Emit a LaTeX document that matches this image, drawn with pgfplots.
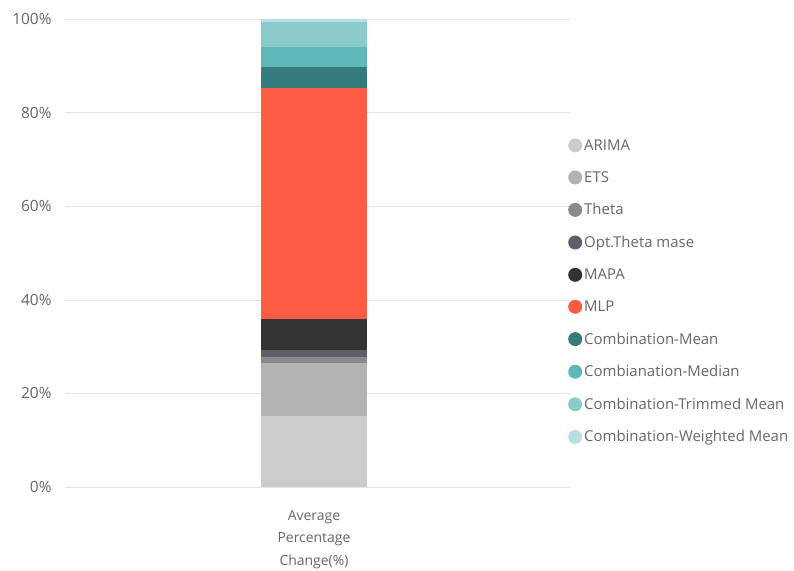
\documentclass[border=0pt]{standalone}
\usepackage{pgfplots}
\pgfplotsset{compat=1.18}
\usepackage{fontspec}
\setmainfont{Open Sans}
\definecolor{cA}{HTML}{CCCCCC}
\definecolor{cB}{HTML}{B3B3B3}
\definecolor{cC}{HTML}{8A8A8A}
\definecolor{cD}{HTML}{5F5F6B}
\definecolor{cE}{HTML}{333333}
\definecolor{cF}{HTML}{FD5C45}
\definecolor{cG}{HTML}{357A7C}
\definecolor{cH}{HTML}{5FB7BA}
\definecolor{cI}{HTML}{8CCBCC}
\definecolor{cJ}{HTML}{B5DFE0}
\definecolor{txt}{HTML}{666666}
\begin{document}
\begin{tikzpicture}[x=1bp,y=1bp]
\useasboundingbox (0,0) rectangle (794,571);
\begin{axis}[
  at={(65bp,84bp)}, anchor=south west,
  scale only axis, width=505bp, height=468bp,
  ybar stacked, bar width=106bp,
  xmin=-0.986, xmax=1.014, ymin=0, ymax=100,
  xtick={0}, xticklabels={Average\\Percentage\\Change(\%)},
  xticklabel style={align=center, font=\fontsize{14}{22.5}\selectfont, text=txt},
  ytick={0,20,40,60,80,100},
  yticklabel={\pgfmathprintnumber{\tick}\%},
  yticklabel style={font=\fontsize{15.5}{17}\selectfont, text=txt},
  /pgf/number format/assume math mode=true,
  ymajorgrids, grid style={draw=black!10},
  axis line style={draw=none},
  major tick length=0pt,
  xticklabel shift=20bp, yticklabel shift=10bp,
  legend style={at={(1,0.418)}, anchor=west, draw=none, fill=none,
    font=\fontsize{15}{17}\selectfont, text=txt, row sep=15.8bp,
    inner xsep=0pt, xshift=-2bp},
  legend cell align=left,
  legend image code/.code={\path (0,0) rectangle (14bp,0); \fill[#1] (7bp,0) circle (7bp);},
  every axis plot/.append style={draw=none},
]
\addplot[fill=cA] coordinates {(0,15.2)};
\addplot[fill=cB] coordinates {(0,11.3)};
\addplot[fill=cC] coordinates {(0,1.3)};
\addplot[fill=cD] coordinates {(0,1.4)};
\addplot[fill=cE] coordinates {(0,6.6)};
\addplot[fill=cF] coordinates {(0,49.4)};
\addplot[fill=cG] coordinates {(0,4.6)};
\addplot[fill=cH] coordinates {(0,4.3)};
\addplot[fill=cI] coordinates {(0,5.3)};
\addplot[fill=cJ] coordinates {(0,0.6)};
\legend{ARIMA,ETS,Theta,Opt.Theta mase,MAPA,MLP,Combination-Mean,Combianation-Median,Combination-Trimmed Mean,Combination-Weighted Mean}
\end{axis}
\end{tikzpicture}
\end{document}
